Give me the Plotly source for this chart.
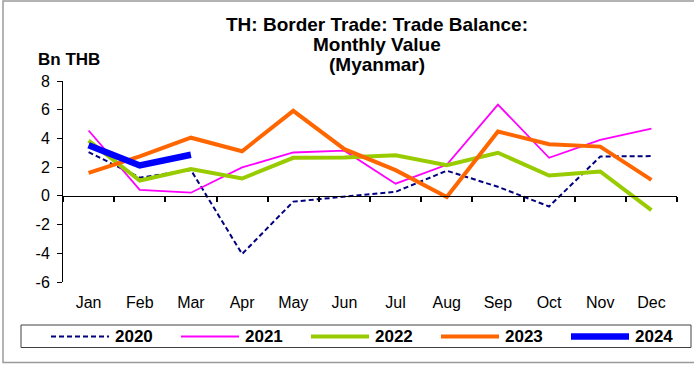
import plotly.graph_objects as go

# Monthly trade balance with Myanmar, billion THB
months = ["Jan", "Feb", "Mar", "Apr", "May", "Jun",
          "Jul", "Aug", "Sep", "Oct", "Nov", "Dec"]
years = ["2020", "2021", "2022", "2023", "2024"]

v2020 = [3.05, 1.27, 1.80, -4.05, -0.40, -0.05, 0.28, 1.75, 0.63, -0.74, 2.74, 2.77]
v2021 = [4.55, 0.42, 0.22, 1.98, 3.02, 3.15, 0.85, 2.16, 6.36, 2.65, 3.90, 4.69]
v2022 = [3.85, 1.07, 1.86, 1.21, 2.65, 2.67, 2.83, 2.14, 3.00, 1.42, 1.70, -1.00]
v2023 = [1.60, 2.75, 4.05, 3.11, 5.92, 3.25, 1.79, -0.08, 4.48, 3.60, 3.43, 1.11]
v2024 = [3.53, 2.12, 2.86]
series = [v2020, v2021, v2022, v2023, v2024]

y_ticks = [-6, -4, -2, 0, 2, 4, 6, 8]
y_tick_text = ["-6", "-4", "-2", "0", "2", "4", "6", "8"]

colors = ["#000080", "#FF00FF", "#99CC00", "#FF6600", "#0000FF"]
widths = [2, 1.8, 4, 4, 6.5]
dashes = ["5px,3px", "solid", "solid", "solid", "solid"]

FONT = "Liberation Sans, Arial, sans-serif"
W, H = 694, 365
ML, MR, MT, MB = 63, 17, 81, 83
PW, PH = W - ML - MR, H - MT - MB


def px_x(px):
    return (px - ML) / PW


def px_y(py):
    return (H - MB - py) / PH


fig = go.Figure()
for name, vals, c, w, d in zip(years, series, colors, widths, dashes):
    fig.add_trace(go.Scatter(
        x=months[:len(vals)], y=vals, mode="lines", name=name,
        line=dict(color=c, width=w, dash=d), showlegend=False,
    ))

# transparent carrier for the category axis drawn along y = 0
fig.add_trace(go.Scatter(x=months, y=[0] * len(months), xaxis="x2",
                         mode="lines", line=dict(width=0), opacity=0,
                         showlegend=False, hoverinfo="skip"))

ymin, ymax = y_ticks[0], y_ticks[-1]

shapes = [
    # outer frame
    dict(type="rect", xref="paper", yref="paper",
         x0=px_x(3), x1=px_x(730), y0=px_y(362.5), y1=px_y(1),
         line=dict(color="#9a9a9a", width=1.5), layer="below"),
    # legend box
    dict(type="rect", xref="paper", yref="paper",
         x0=px_x(21), x1=px_x(691), y0=px_y(347.5), y1=px_y(325),
         line=dict(color="#404040", width=1)),
]

annotations = [
    dict(text="TH: Border Trade: Trade Balance:", x=px_x(377), y=px_y(25)),
    dict(text="Monthly Value", x=px_x(377), y=px_y(45)),
    dict(text="(Myanmar)", x=px_x(377), y=px_y(64)),
]
for a in annotations:
    a.update(xref="paper", yref="paper", xanchor="center", yanchor="middle",
             showarrow=False, font=dict(family=FONT, size=19, color="black", weight="bold"))

annotations.append(dict(
    text="Bn THB", xref="paper", yref="paper", x=px_x(36), y=px_y(60),
    xanchor="left", yanchor="middle", showarrow=False,
    font=dict(family=FONT, size=17, color="black", weight="bold")))

# legend entries
leg_y = px_y(336.5)
for i, (name, c, w, d) in enumerate(zip(years, colors, widths, dashes)):
    x0 = 51 + 130 * i
    shapes.append(dict(type="line", xref="paper", yref="paper",
                       x0=px_x(x0), x1=px_x(x0 + 58), y0=leg_y, y1=leg_y,
                       line=dict(color=c, width=w, dash=d)))
    annotations.append(dict(
        text=name, xref="paper", yref="paper", x=px_x(x0 + 62), y=leg_y,
        xanchor="left", yanchor="middle", showarrow=False,
        font=dict(family=FONT, size=17, color="black", weight="bold")))

fig.update_layout(
    width=W, height=H,
    margin=dict(l=ML, r=MR, t=MT, b=MB, pad=0),
    paper_bgcolor="white", plot_bgcolor="white",
    font=dict(family=FONT, size=16, color="black"),
    showlegend=False,
    xaxis=dict(type="category", categoryorder="array", categoryarray=months,
               range=[-0.5, len(months) - 0.5], showline=False, ticks="",
               showgrid=False, zeroline=False, ticklabelstandoff=9,
               tickfont=dict(family=FONT, size=16, color="black")),
    xaxis2=dict(type="category", categoryorder="array", categoryarray=months,
                range=[-0.5, len(months) - 0.5], overlaying="x", anchor="free",
                position=(0 - ymin) / (ymax - ymin), side="bottom",
                showline=True, linecolor="black", linewidth=1,
                ticks="outside", ticklen=5, tickcolor="black", tickwidth=1.5,
                tickson="boundaries", showticklabels=False, showgrid=False,
                zeroline=False),
    yaxis=dict(range=[ymin, ymax], tickvals=y_ticks, ticktext=y_tick_text,
               showline=True, linecolor="black", linewidth=1,
               ticks="outside", ticklen=5, tickcolor="black",
               showgrid=False, zeroline=False, ticklabelstandoff=4,
               tickfont=dict(family=FONT, size=16, color="black")),
    shapes=shapes,
    annotations=annotations,
)

fig.write_html("out.html")
